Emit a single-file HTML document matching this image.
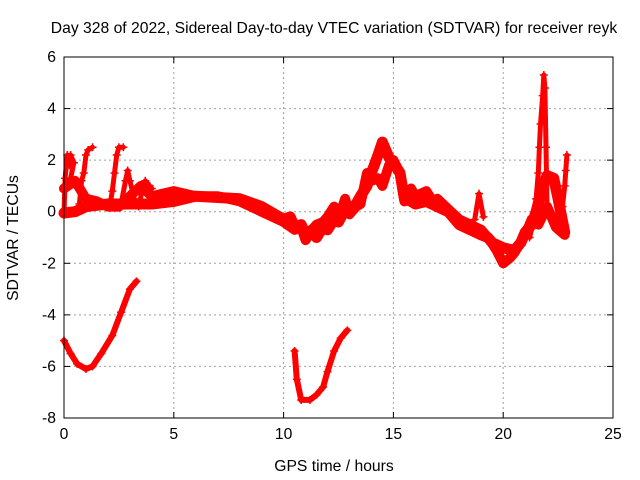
<!DOCTYPE html>
<html><head><meta charset="utf-8"><style>
html,body{margin:0;padding:0;background:#fff;}
svg{display:block;font-family:"Liberation Sans",sans-serif;}
</style></head><body>
<svg id="chart" width="640" height="480">
<text x="334" y="33" font-size="15.7" text-anchor="middle">Day 328 of 2022, Sidereal Day-to-day VTEC variation (SDTVAR) for receiver reyk</text>
<text x="334" y="471" font-size="15.7" text-anchor="middle">GPS time / hours</text>
<text x="18" y="238" font-size="15.7" text-anchor="middle" transform="rotate(-90 18 238)">SDTVAR / TECUs</text>
<g id="grid"></g><g id="ticks"></g><g id="marks"></g>
<rect x="64" y="57" width="549" height="361" fill="none" stroke="#000" stroke-width="1"/>
</svg>
<script>
const xTicks=[0,5,10,15,20,25];
const yTicks=[-8,-6,-4,-2,0,2,4,6];
const bandA=[[0,-0.05],[0.5,0],[1,0.2],[1.5,0.25],[2,0.3],[3,0.3],[4,0.3],[5,0.4],[6,0.6],[7,0.55],[8,0.5],[9,0.2],[10,-0.3],[10.3,-0.2],[10.5,-0.6],[10.8,-0.5],[11,-0.9],[11.3,-0.7],[11.5,-1.0],[11.8,-0.6],[12,-0.7],[12.3,-0.3],[12.5,-0.4],[12.8,0.1],[13,0],[13.3,0.3],[13.5,0.6],[13.8,1.0],[14,1.5],[14.3,2.2],[14.5,2.7],[14.8,2.1],[15,1.9],[15.3,1.5],[15.5,0.5],[15.8,0.4],[16,0.3],[16.5,0.4],[17,0.2],[17.5,0],[18,-0.5],[18.5,-0.7],[19,-0.9],[19.3,-1.0],[19.5,-1.2],[20,-1.4],[20.5,-1.5],[20.8,-1.2],[21,-0.8],[21.3,-0.5],[21.5,0],[21.8,1],[22,1.4],[22.3,1.3],[22.5,0.5],[22.8,-0.8]];
const bandB=[[0,0.9],[0.5,1.2],[1,0.5],[1.5,0.4],[2,0.2],[2.5,0.2],[3,0.6],[3.5,1.0],[4,0.6],[5,0.8],[6,0.6],[7,0.6],[8,0.4],[9,0],[10,-0.4],[10.5,-0.7],[10.8,-0.6],[11,-1.1],[11.3,-0.7],[11.5,-0.5],[11.8,-0.4],[12,-0.2],[12.3,0.2],[12.5,-0.3],[12.8,0.5],[13,-0.1],[13.3,0.2],[13.5,0.3],[13.8,1.5],[14,1.2],[14.3,1.3],[14.5,1.0],[14.8,1.8],[15,2.0],[15.3,1.5],[15.5,0.4],[15.8,0.9],[16,0.6],[16.5,0.8],[16.8,0.4],[17,0.5],[17.5,0.1],[18,-0.3],[18.5,-0.5],[19,-0.7],[19.4,-1.1],[19.7,-1.5],[20,-2.0],[20.3,-1.8],[20.5,-1.6],[21,-0.9],[21.3,-0.3],[21.6,-0.5],[22,0.2],[22.4,-0.6],[22.8,-0.9]];
const spikes=[
[[0.0,-0.1],[0.05,1.3],[0.15,2.2],[0.25,1.8],[0.3,2.2],[0.45,1.9],[0.3,1.3],[0.1,0.9]],
[[0.7,0.3],[0.8,1.2],[0.9,1.5],[1.0,2.2],[1.1,2.4],[1.3,2.5]],
[[2.1,0.3],[2.2,0.8],[2.3,1.5],[2.4,2.2],[2.5,2.5],[2.7,2.5]],
[[2.6,0.3],[2.8,1.2],[2.9,1.6],[3.0,1.2],[3.2,0.5]],
[[3.4,0.2],[3.6,1.0],[3.7,1.2],[3.9,1.0],[4,0.9]],
[[18.7,-0.3],[18.9,0.7],[19.1,-0.2]],
[[21.2,-1],[21.4,-0.3],[21.5,0.5],[21.6,1.5],[21.65,2.5],[21.7,3.4],[21.8,4.5],[21.85,5.3],[21.9,4.8],[21.95,2.5],[22,0]],
[[22.6,-0.5],[22.7,0.2],[22.8,1.0],[22.85,1.6],[22.9,2.2]]
];
const lowE=[[0,-5.0],[0.3,-5.5],[0.6,-5.9],[1,-6.1],[1.3,-6.0],[1.7,-5.5],[2.2,-4.8],[2.6,-3.9],[3,-3.0],[3.3,-2.7]];
const lowF=[[10.5,-5.4],[10.6,-6.5],[10.8,-7.3],[11.2,-7.3],[11.5,-7.1],[11.8,-6.8],[12,-6.2],[12.3,-5.4],[12.6,-4.9],[12.9,-4.6]];

const NS="http://www.w3.org/2000/svg";
const X0=64,X1=613,Y0=418,Y1=57;
function px(x){return X0+(x-0)/(25-0)*(X1-X0);}
function py(y){return Y0-(y+8)/(6+8)*(Y0-Y1);}
function mk(tag,attrs,parent){const e=document.createElementNS(NS,tag);for(const k in attrs)e.setAttribute(k,attrs[k]);parent.appendChild(e);return e;}
const grid=document.getElementById('grid'),ticks=document.getElementById('ticks'),marks=document.getElementById('marks');
xTicks.forEach(v=>{
  const x=px(v);
  if(v>0&&v<25){const l=mk('line',{x1:x,x2:x,y1:Y1,y2:Y0,stroke:'#a0a0a0','stroke-dasharray':'2,3'},grid);
  
  }
  mk('line',{x1:x,x2:x,y1:Y0,y2:Y0-6,stroke:'#000'},ticks);
  mk('line',{x1:x,x2:x,y1:Y1,y2:Y1+6,stroke:'#000'},ticks);
  const t=mk('text',{x:x,y:Y0+21,'font-size':15.7,'text-anchor':'middle'},ticks);t.textContent=v;
  
  
});
yTicks.forEach(v=>{
  const y=py(v);
  if(v>-8&&v<6){const l=mk('line',{x1:X0,x2:X1,y1:y,y2:y,stroke:'#a0a0a0','stroke-dasharray':'2,3'},grid);
  
  }
  mk('line',{x1:X0,x2:X0+6,y1:y,y2:y,stroke:'#000'},ticks);
  mk('line',{x1:X1,x2:X1-6,y1:y,y2:y,stroke:'#000'},ticks);
  const t=mk('text',{x:X0-8,y:y+5,'font-size':15.7,'text-anchor':'end'},ticks);t.textContent=v;
  
  
});
function series(data,w,name){
  const d=data.map((p,i)=>(i?'L':'M')+px(p[0]).toFixed(1)+','+py(p[1]).toFixed(1)).join(' ');
  const path=mk('path',{d:d,fill:'none',stroke:'#f00','stroke-width':w,'stroke-linejoin':'round','stroke-linecap':'round'},marks);
  
  
  data.forEach(p=>{
    const x=px(p[0]),y=py(p[1]);
    mk('path',{d:`M${x-4},${y}H${x+4}M${x},${y-4}V${y+4}`,stroke:'#f00','stroke-width':1.5},marks);
  });
}
series(bandA,11,'series-band-a');
series(bandB,10,'series-band-b');
spikes.forEach(s=>series(s,5,'series-spike'));
series(lowE,6,'series-low-early');
series(lowF,6,'series-low-midday');
</script>
</body></html>
